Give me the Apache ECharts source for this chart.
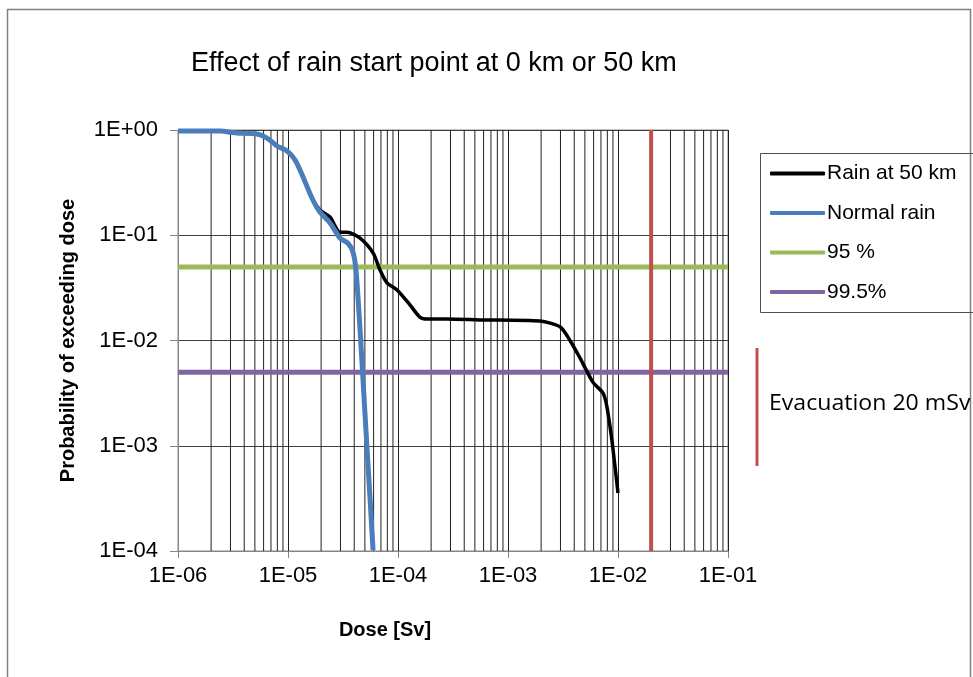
<!DOCTYPE html>
<html>
<head>
<meta charset="utf-8">
<script src="https://cdn.jsdelivr.net/npm/echarts@6/dist/echarts.min.js"></script>
<style>
html,body{margin:0;padding:0;background:#fff;}
#chart{width:973px;height:677px;}
</style>
</head>
<body>
<div id="chart"></div>
<script>
// ---- data ----
const titleText = 'Effect of rain start point at 0 km or 50 km';
const seriesNames = ['Rain at 50 km', 'Normal rain', '95 %', '99.5%'];
const rain50Dose = [1e-6, 2.41e-6, 3.44e-6, 5.22e-6, 6.44e-6, 7.94e-6, 9.8e-6, 1.16e-5, 1.37e-5, 1.65e-5, 1.95e-5, 2.41e-5, 2.97e-5, 3.44e-5, 4.52e-5, 5.93e-5, 6.86e-5, 7.94e-5, 9.8e-5, 1.29e-4, 1.58e-4, 1.84e-4, 2.79e-4, 5.56e-4, 1.95e-3, 2.97e-3, 3.66e-3, 4.52e-3, 5.93e-3, 7.3e-3, 7.94e-3, 8.8e-3, 9.4e-3, 1e-2];
const rain50Prob = [0.978, 0.978, 0.936, 0.916, 0.839, 0.705, 0.632, 0.519, 0.358, 0.226, 0.174, 0.149, 0.107, 0.107, 0.094, 0.068, 0.0468, 0.0352, 0.0302, 0.0217, 0.0167, 0.016, 0.016, 0.0157, 0.0153, 0.0135, 0.0100, 0.0068, 0.0040, 0.00317, 0.00233, 0.00113, 0.00063, 0.000356];
const normalDose = [1e-6, 2.41e-6, 3.44e-6, 5.22e-6, 6.44e-6, 7.94e-6, 9.8e-6, 1.16e-5, 1.37e-5, 1.65e-5, 1.95e-5, 2.41e-5, 2.97e-5, 3.51e-5, 3.9e-5, 4.15e-5, 4.52e-5, 4.81e-5, 5.22e-5, 5.56e-5, 5.93e-5];
const normalProb = [0.978, 0.978, 0.936, 0.916, 0.839, 0.705, 0.632, 0.519, 0.358, 0.226, 0.166, 0.131, 0.094, 0.084, 0.069, 0.0468, 0.0126, 0.00421, 0.00097, 0.000326, 0.000102];
const level95 = 0.05;
const level995 = 0.005;
const evacuationDose = 0.02;
const evacuationLabel = 'Evacuation 20 mSv';
const xTickValues = [1e-6, 1e-5, 1e-4, 1e-3, 1e-2, 1e-1];
const yTickValues = [1e-4, 1e-3, 1e-2, 1e-1, 1];
const xAxisName = 'Dose [Sv]';
const yAxisName = 'Probability of exceeding dose';

const fmtE = v => {
  const e = Math.round(Math.log10(v));
  const s = e < 0 ? '-' : '+';
  const a = Math.abs(e);
  return '1E' + s + (a < 10 ? '0' : '') + a;
};
const zip = (a, b) => a.map((v, i) => [v, b[i]]);

// minor vertical grid lines (2..9 × each decade), drawn as broken line segments
const yLo = yTickValues[0], yHi = yTickValues[yTickValues.length - 1];
const minorGrid = [];
for (let i = 0; i < xTickValues.length - 1; i++) {
  for (let k = 2; k <= 9; k++) {
    const x = k * xTickValues[i];
    minorGrid.push([x, yLo], [x, yHi], [x, '-']);
  }
}

const FONT = 'Liberation Sans, Arial, sans-serif';
const chart = echarts.init(document.getElementById('chart'), null, { renderer: 'canvas' });
chart.setOption({
  animation: false,
  backgroundColor: '#fff',
  title: {
    text: titleText,
    left: 186, top: 45,
    textStyle: { fontFamily: FONT, fontSize: 27, fontWeight: 'normal', color: '#000' }
  },
  grid: { left: 178, right: 245, top: 130, bottom: 126, show: true, borderColor: '#868686', borderWidth: 1 },
  legend: {
    orient: 'vertical',
    left: 770, top: 163,
    padding: 0,
    itemGap: 18.5,
    itemWidth: 55, itemHeight: 4,
    icon: 'roundRect',
    data: seriesNames,
    textStyle: { fontFamily: FONT, fontSize: 21, color: '#000', padding: [0, 0, 0, -3] }
  },
  xAxis: {
    type: 'log', logBase: 10, min: 1e-6, max: 1e-1,
    name: xAxisName, nameLocation: 'middle', nameGap: 69,
    nameTextStyle: { fontFamily: FONT, fontSize: 20, fontWeight: 'bold', color: '#000', padding: [0, 136, 0, 0] },
    axisLine: { show: true, lineStyle: { color: '#868686' } },
    axisTick: { show: true, length: 7, lineStyle: { color: '#868686' } },
    axisLabel: { formatter: fmtE, fontFamily: FONT, fontSize: 22, color: '#000', margin: 14 },
    splitLine: { show: true, lineStyle: { color: '#202020', width: 1 } }
  },
  yAxis: {
    type: 'log', logBase: 10, min: 1e-4, max: 1,
    name: yAxisName, nameLocation: 'middle', nameGap: 100,
    nameTextStyle: { fontFamily: FONT, fontSize: 20, fontWeight: 'bold', color: '#000' },
    axisLine: { show: true, lineStyle: { color: '#868686' } },
    axisTick: { show: true, length: 8, lineStyle: { color: '#868686' } },
    axisLabel: { formatter: fmtE, fontFamily: FONT, fontSize: 22, color: '#000', margin: 20 },
    splitLine: { show: true, lineStyle: { color: '#404040', width: 1 } }
  },
  series: [
    {
      name: '__minor', type: 'line', data: minorGrid, silent: true, symbol: 'none',
      connectNulls: false, lineStyle: { color: '#202020', width: 1 }, z: 1
    },
    {
      name: seriesNames[2], type: 'line', data: [[xTickValues[0], level95], [xTickValues[xTickValues.length - 1], level95]],
      symbol: 'none', lineStyle: { color: '#9BBB59', width: 5 }, itemStyle: { color: '#9BBB59' }, z: 3
    },
    {
      name: seriesNames[3], type: 'line', data: [[xTickValues[0], level995], [xTickValues[xTickValues.length - 1], level995]],
      symbol: 'none', lineStyle: { color: '#8064A2', width: 5 }, itemStyle: { color: '#8064A2' }, z: 3
    },
    {
      name: 'Evacuation', type: 'line', data: [[evacuationDose, yLo], [evacuationDose, yHi]],
      symbol: 'none', lineStyle: { color: '#C0504D', width: 4 }, itemStyle: { color: '#C0504D' }, z: 3
    },
    {
      name: seriesNames[0], type: 'line', data: zip(rain50Dose, rain50Prob),
      symbol: 'none', smooth: 0.25, lineStyle: { color: '#000', width: 3.5 }, itemStyle: { color: '#000' }, z: 4
    },
    {
      name: seriesNames[1], type: 'line', data: zip(normalDose, normalProb),
      symbol: 'none', smooth: 0.25, lineStyle: { color: '#4A7EBB', width: 5 }, itemStyle: { color: '#4A7EBB' }, z: 5
    }
  ],
  graphic: [
    { type: 'rect', shape: { x: 7.5, y: 9.5, width: 963, height: 700 }, style: { fill: 'none', stroke: '#808080', lineWidth: 1.5 }, z: 0, silent: true },
    { type: 'rect', shape: { x: 760.5, y: 153.5, width: 220, height: 159 }, style: { fill: 'none', stroke: '#505050', lineWidth: 1 }, z: 10, silent: true },
    { type: 'line', shape: { x1: 757, y1: 348, x2: 757, y2: 466 }, style: { stroke: '#C0504D', lineWidth: 3 }, z: 10, silent: true },
    { type: 'text', x: 769, y: 404, scaleX: 1.1, style: { text: evacuationLabel, fontFamily: 'Open Sans, Lato, sans-serif', fontSize: 21, fill: '#000', verticalAlign: 'middle' }, z: 10, silent: true }
  ]
});
</script>
</body>
</html>
